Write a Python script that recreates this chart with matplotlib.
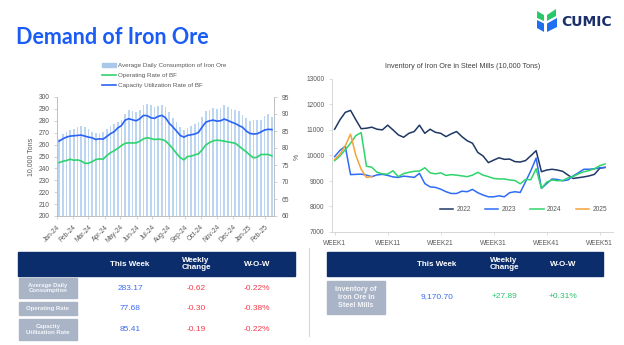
import numpy as np
import pandas as pd
import matplotlib
matplotlib.use('Agg')
import matplotlib.pyplot as plt
import matplotlib.dates as mdates
from matplotlib.patches import Rectangle, Polygon

plt.rcParams['font.family'] = ['Liberation Sans', 'DejaVu Sans']

# weekly demand, Jan 2024 - Feb 2025
week_dates = pd.date_range('2024-01-05', periods=59, freq='7D')
consumption = [265, 269, 271, 272.5, 273, 275, 275.5, 274.5, 273, 271,
               270, 270, 270.5, 273, 275.5, 277, 279, 281, 286, 289,
               288, 287.5, 289, 293, 294, 293, 292, 292.5, 293, 292,
               287, 282, 279, 275, 272, 274, 275.5, 277, 279, 283,
               288, 289, 291, 290, 290.5, 293, 292, 290, 289, 288,
               285, 282, 280, 280.5, 281, 281, 284, 285.5, 283.17]
operating_rate = [75.7, 76.1, 76.3, 76.7, 76.4, 76.5, 76.2, 75.5, 75.5, 76.0,
                  76.6, 76.8, 76.7, 77.8, 78.6, 79.2, 79.9, 80.7, 81.4, 81.5,
                  81.5, 81.5, 82.0, 82.7, 83.0, 82.8, 82.5, 82.6, 82.5, 82.1,
                  81.0, 79.8, 78.4, 77.2, 76.5, 77.5, 77.6, 78.0, 78.3, 79.5,
                  80.9, 81.6, 82.1, 82.3, 82.2, 82.0, 81.8, 81.6, 81.4, 80.6,
                  79.7, 78.9, 77.9, 77.1, 77.3, 78.1, 78.1, 78.1, 77.68]
capacity_rate = [82.0, 82.7, 83.2, 83.5, 83.6, 83.7, 83.8, 83.5, 83.2, 83.0,
                 82.5, 82.7, 82.6, 83.4, 84.2, 84.8, 85.9, 86.6, 88.2, 88.6,
                 88.3, 88.0, 88.6, 89.6, 89.5, 88.9, 88.7, 89.3, 89.6, 88.9,
                 87.3, 86.2, 85.0, 83.7, 83.2, 83.7, 83.9, 84.1, 84.6, 86.2,
                 87.6, 88.0, 88.2, 87.9, 88.0, 88.5, 88.1, 87.6, 87.2, 86.6,
                 86.1, 85.0, 84.3, 84.1, 84.2, 84.7, 85.3, 85.5, 85.41]

# iron ore inventory in steel mills by week of year (10,000 tons)
inv_2022 = [11030, 11400, 11690, 11770, 11400, 11050, 11070, 11110, 11030, 11005,
            11190, 11005, 10810, 10715, 10870, 10940, 11190, 10870, 11030, 10910,
            10870, 10740, 10850, 10940, 10740, 10580, 10480, 10120, 9980, 9720,
            9820, 9910, 9850, 9860, 9760, 9745, 9800, 9990, 10190, 9365,
            9430, 9460, 9430, 9380, 9235, 9100, 9130, 9160, 9200, 9260,
            9500, 9535]
inv_2023 = [9960, 10200, 10360, 9250, 9260, 9270, 9230, 9170, 9240, 9260,
            9220, 9160, 9140, 9190, 9170, 9140, 9300, 8900, 8770, 8750,
            8680, 8580, 8510, 8510, 8600, 8580, 8670, 8540, 8450, 8380,
            8380, 8420, 8380, 8540, 8580, 8550, 8970, 9400, 9900, 8710,
            8900, 9080, 9060, 9010, 9040, 9200, 9325, 9460, 9460, 9480,
            9520, 9530]
inv_2024 = [9800, 9980, 10230, 10480, 10780, 10900, 9580, 9540, 9340, 9280,
            9270, 9400, 9170, 9290, 9340, 9380, 9390, 9520, 9320, 9280,
            9320, 9220, 9250, 9230, 9200, 9170, 9230, 9340, 9230, 9170,
            9100, 9080, 9080, 9040, 9020, 8890, 9060, 9050, 9480, 8710,
            8960, 9040, 9010, 9020, 9120, 9180, 9280, 9360, 9410, 9480,
            9600, 9670]
inv_2025 = [9850, 10050, 10380, 10840, 10000, 9460, 9142.81, 9170.70]
week_ticks = [1, 11, 21, 31, 41, 51]
week_labels = ['WEEK1', 'WEEK11', 'WEEK21', 'WEEK31', 'WEEK41', 'WEEK51']

# summary tables
demand_rows = ['Average Daily\nConsumption', 'Operating Rate', 'Capacity\nUtilization Rate']
demand_this_week = ['283.17', '77.68', '85.41']
demand_change = ['-0.62', '-0.30', '-0.19']
demand_wow = ['-0.22%', '-0.38%', '-0.22%']
stock_row = 'Inventory of\nIron Ore in\nSteel Mills'
stock_this_week = '9,170.70'
stock_change = '+27.89'
stock_wow = '+0.31%'
headers = ['This Week', 'Weekly\nChange', 'W-O-W']

NAVY = '#0c2d6b'
GRAY_TXT = '#595959'
SPINE = '#bfbfbf'
BLUE = '#2a63f5'
GREEN = '#2ed46c'

W, H = 624, 345
fig = plt.figure(figsize=(W / 100, H / 100), dpi=100)


def fx(px):
    return px / W


def fy(py):
    return 1 - py / H


# ---- left chart: consumption bars + rates ----
ax1 = fig.add_axes([fx(57), fy(216), fx(274 - 57), (216 - 97) / H])
ax1.bar(week_dates, consumption, width=3.2, color='#bcd6f1', zorder=1)
ax1.set_ylim(200, 300)
ax1.set_yticks(range(200, 301, 10))
ax1.set_xlim(pd.Timestamp('2024-01-01'), pd.Timestamp('2025-02-18'))
ax1.xaxis.set_major_locator(mdates.MonthLocator())
ax1.xaxis.set_major_formatter(mdates.DateFormatter('%b-%y'))
for lbl in ax1.get_xticklabels():
    lbl.set_rotation(45)
    lbl.set_ha('right')
    lbl.set_rotation_mode('anchor')
ax1.set_ylabel('10,000 Tons', fontsize=5, color=GRAY_TXT, labelpad=3)

ax1r = ax1.twinx()
ax1r.plot(week_dates, operating_rate, color=GREEN, lw=1.2, zorder=3)
ax1r.plot(week_dates, capacity_rate, color=BLUE, lw=1.2, zorder=3)
ax1r.set_ylim(60, 95)
ax1r.set_yticks(range(60, 96, 5))
ax1r.set_ylabel('%', fontsize=5, color=GRAY_TXT, labelpad=3)

for a in (ax1, ax1r):
    a.spines['top'].set_visible(False)
    for side in ('left', 'right', 'bottom'):
        a.spines[side].set_color(SPINE)
        a.spines[side].set_linewidth(0.6)
    a.tick_params(labelsize=4.8, colors=GRAY_TXT, length=2, width=0.5)
    a.tick_params(axis='both', color=SPINE)

# legend above the left chart
handles = [Rectangle((0, 0), 1, 1, color='#a9c8ea'),
           plt.Line2D([], [], color=GREEN, lw=1.2),
           plt.Line2D([], [], color=BLUE, lw=1.2)]
fig.legend(handles, ['Average Daily Consumption of Iron Ore', 'Operating Rate of BF',
                     'Capacity Utilization Rate of BF'],
           loc='upper left', bbox_to_anchor=(fx(99), fy(60)), frameon=False,
           fontsize=4.5, labelcolor=GRAY_TXT, handlelength=2.2, handleheight=0.6,
           handletextpad=0.3, labelspacing=0.75, borderpad=0)

# ---- right chart: inventory by week ----
ax2 = fig.add_axes([fx(332), fy(232), fx(613 - 332), (232 - 79) / H])
ax2.plot(np.arange(1, len(inv_2022) + 1), inv_2022, color='#1f3864', lw=1.1, label='2022')
ax2.plot(np.arange(1, len(inv_2023) + 1), inv_2023, color='#2e6cf6', lw=1.1, label='2023')
ax2.plot(np.arange(1, len(inv_2024) + 1), inv_2024, color=GREEN, lw=1.1, label='2024')
ax2.plot(np.arange(1, len(inv_2025) + 1), inv_2025, color='#f5a23c', lw=1.1, label='2025')
ax2.set_xlim(0.5, 53.5)
ax2.set_ylim(7000, 13000)
ax2.set_yticks(range(7000, 13001, 1000))
ax2.set_xticks(week_ticks)
ax2.set_xticklabels(week_labels)
ax2.spines['top'].set_visible(False)
ax2.spines['right'].set_visible(False)
for side in ('left', 'bottom'):
    ax2.spines[side].set_color('#d0d0d0')
    ax2.spines[side].set_linewidth(0.6)
ax2.tick_params(labelsize=4.8, colors=GRAY_TXT, length=2, width=0.5, color='#d0d0d0')
ax2.legend(loc='lower right', bbox_to_anchor=(0.99, 0.1), ncol=4, frameon=False,
           fontsize=4.8, labelcolor=GRAY_TXT, handlelength=2.0, handletextpad=0.5,
           columnspacing=2.1, borderpad=0)
fig.text(fx(463), fy(66), 'Inventory of Iron Ore in Steel Mills (10,000 Tons)',
         ha='center', va='center', fontsize=5.2, color='#404040')

# ---- page decoration, tables and logo ----
ov = fig.add_axes([0, 0, 1, 1])
ov.set_xlim(0, W)
ov.set_ylim(H, 0)
ov.set_axis_off()

ov.text(16, 37, 'Demand of Iron Ore', fontsize=15.5, fontweight='bold', color='#1a5cf4',
        family=['Lato', 'DejaVu Sans'], va='center', ha='left')

# logo
ov.add_patch(Polygon([(537, 11), (544, 15), (544, 21), (537, 18)], color='#27c96a', lw=0))
ov.add_patch(Polygon([(547, 15), (556, 9), (556, 16), (547, 21)], color='#27c96a', lw=0))
ov.add_patch(Polygon([(537, 20), (544, 23.5), (544, 32), (537, 28)], color='#1f6ff2', lw=0))
ov.add_patch(Polygon([(547, 23.5), (557, 18), (557, 27), (547, 32)], color='#1f6ff2', lw=0))
ov.text(561, 22, 'CUMIC', fontsize=10, fontweight='bold', color='#1b2f6b',
        family=['DejaVu Sans'], va='center', ha='left')

ov.plot([309, 309], [248, 336], color='#d6d6d6', lw=0.8)

# left table
ov.add_patch(Rectangle((18, 252), 277, 24, color=NAVY))
for x, h in zip([130, 196, 257], headers):
    ov.text(x, 264, h, ha='center', va='center', fontsize=5.8, fontweight='bold',
            color='white', linespacing=1.0)
row_boxes = [(278, 20), (302, 13), (319, 21)]
for (y0, hh), name, v1, v2, v3 in zip(row_boxes, demand_rows, demand_this_week,
                                      demand_change, demand_wow):
    ov.add_patch(Rectangle((19, y0), 58, hh, color='#aab4c7'))
    yc = y0 + hh / 2
    ov.text(48, yc, name, ha='center', va='center', fontsize=4.3, fontweight='bold',
            color='#f4f6fa', linespacing=1.15)
    ov.text(130, yc, v1, ha='center', va='center', fontsize=6, color='#3d6cf0')
    ov.text(196, yc, v2, ha='center', va='center', fontsize=6, color='#f23c4a')
    ov.text(257, yc, v3, ha='center', va='center', fontsize=6, color='#f23c4a')

# right table
ov.add_patch(Rectangle((327, 252), 276, 24, color=NAVY))
for x, h in zip([437, 504, 563], headers):
    ov.text(x, 264, h, ha='center', va='center', fontsize=5.8, fontweight='bold',
            color='white', linespacing=1.0)
ov.add_patch(Rectangle((327, 281), 58, 33, color='#aab4c7'))
ov.text(356, 297.5, stock_row, ha='center', va='center', fontsize=5.2, fontweight='bold',
        color='#f4f6fa', linespacing=1.2)
ov.text(437, 297, stock_this_week, ha='center', va='center', fontsize=6, color='#3d6cf0')
ov.text(504, 297, stock_change, ha='center', va='center', fontsize=6, color='#2cc36b')
ov.text(563, 297, stock_wow, ha='center', va='center', fontsize=6, color='#2cc36b')

fig.savefig('out.png', dpi=100)
